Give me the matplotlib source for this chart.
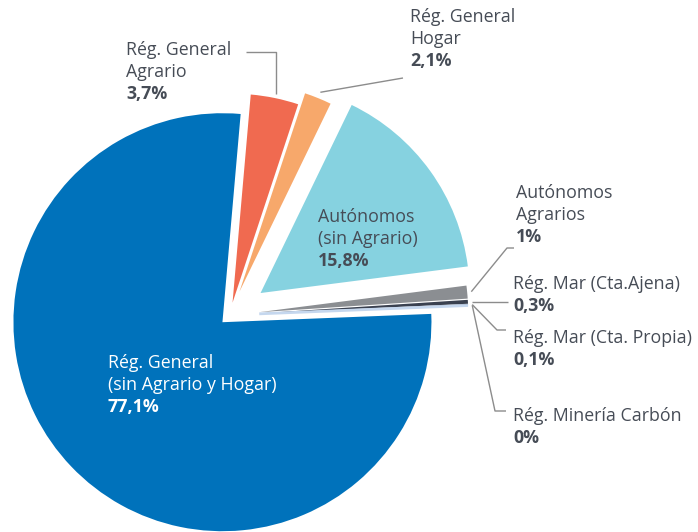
import numpy as np
import matplotlib.pyplot as plt

# slices clockwise from the top
names = [
    "Rég. General\nAgrario",
    "Rég. General\nHogar",
    "Autónomos\n(sin Agrario)",
    "Autónomos\nAgrarios",
    "Rég. Mar (Cta.Ajena)",
    "Rég. Mar (Cta. Propia)",
    "Rég. Minería Carbón",
    "Rég. General\n(sin Agrario y Hogar)",
]
values = [3.7, 2.1, 15.8, 1.0, 0.3, 0.1, 0.0, 77.1]
pct_labels = ["3,7%", "2,1%", "15,8%", "1%", "0,3%", "0,1%", "0%", "77,1%"]
colors = ["#F06A50", "#F7A86B", "#86D2E0", "#8B8E92", "#3A4150", "#5B6B85", "#C5D7EE", "#0072BB"]
explode = [0.06, 0.12, 0.18, 0.14, 0.14, 0.14, 0.14, 0.05]

TEXT = "#464C56"
LINE = "#8C8C8C"
FONT = "Open Sans"
FS = 12.8
LH = 22  # line height in px

# pixel -> data (pie radius = 1)
CX, CY, R = 230, 315, 209
W, H = 698, 532


def px(x, y):
    return (x - CX) / R, (CY - y) / R


def put_label(x, y, name, pct, color=TEXT):
    lines = name.split("\n")
    for i, line in enumerate(lines):
        ax.text(*px(x, y + i * LH), line, color=color, fontsize=FS,
                family=FONT, va="center", ha="left")
    ax.text(*px(x, y + len(lines) * LH), pct, color=color, fontsize=FS,
            family=FONT, fontweight="bold", va="center", ha="left")


def anchor(w, pad=0.03):
    # outer point of a wedge at its middle angle
    a = np.deg2rad((w.theta1 + w.theta2) / 2)
    cx, cy = w.center
    r = w.r + pad
    return cx + r * np.cos(a), cy + r * np.sin(a)


def leader(points):
    xs, ys = zip(*points)
    ax.plot(xs, ys, color=LINE, lw=1, solid_capstyle="butt")


fig = plt.figure(figsize=(W / 100, H / 100), dpi=100)
ax = fig.add_axes([0, 0, 1, 1])

wedges, _ = ax.pie(values, explode=explode, colors=colors, startangle=85,
                   counterclock=False, radius=1,
                   wedgeprops=dict(linewidth=0))
wedges[6].set_edgecolor(colors[6])
wedges[6].set_linewidth(2)

ax.set_xlim(px(0, 0)[0], px(W, 0)[0])
ax.set_ylim(px(0, H)[1], px(0, 0)[1])
ax.set_aspect("equal")
ax.axis("off")

# labels
put_label(126, 50, names[0], pct_labels[0])
put_label(410, 17, names[1], pct_labels[1])
put_label(318, 217, names[2], pct_labels[2])
put_label(516, 193, names[3], pct_labels[3])
put_label(513, 284, names[4], pct_labels[4])
put_label(513, 338, names[5], pct_labels[5])
put_label(513, 416, names[6], pct_labels[6])
put_label(108, 363, names[7], pct_labels[7], color="white")

# leader lines
a = anchor(wedges[0], 0.02)
leader([a, (a[0], px(0, 52)[1]), px(246, 52)])
a = anchor(wedges[1], 0.03)
leader([a, px(403, 78)])
a = anchor(wedges[3], 0.02)
leader([a, px(507, 248), px(514, 248)])
a = anchor(wedges[4], 0.02)
leader([a, px(508, a[1] * -R + CY)])
a = anchor(wedges[5], 0.02)
leader([a, px(497, 330), px(506, 330)])
a = anchor(wedges[6], 0.02)
leader([a, px(495, 411), px(506, 411)])

fig.savefig("out.png", dpi=100, facecolor="white")
